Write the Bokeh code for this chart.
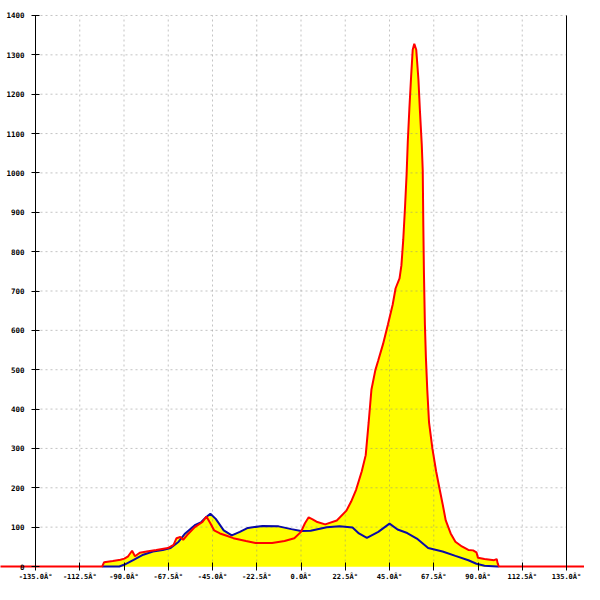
import numpy as np
from bokeh.plotting import figure
from bokeh.models import Range1d, LinearAxis, FixedTicker, CustomJSTickFormatter
from bokeh.embed import file_html
from bokeh.resources import INLINE

# ---- data (angle in degrees, count) ----
red_deg = [-160.0, -101.1, -100.1, -95.7, -91.8, -89.8, -87.9, -85.9, -84.4, -82.0,
           -78.5, -73.6, -67.7, -64.8, -63.3, -61.4, -59.9, -57.9, -54.0, -50.1,
           -48.1, -46.1, -44.2, -41.2, -37.8, -34.4, -28.0, -23.1, -14.7, -8.35,
           -3.4, 0.0, 2.0, 3.9, 5.9, 8.3, 12.3, 18.2, 23.1, 25.5,
           28.0, 30.9, 32.9, 34.4, 35.8, 37.8, 39.3, 41.7, 44.2, 46.6,
           48.1, 50.1, 51.05, 52.0, 52.9, 53.7, 54.3, 55.1, 56.0, 56.8,
           57.6, 58.6, 59.7, 60.5, 61.4, 61.9, 62.2, 62.5, 63.0, 63.5,
           64.2, 65.1, 66.8, 68.7, 70.35, 72.0, 73.6, 76.1, 78.5, 81.8,
           85.1, 87.5, 89.2, 90.0, 93.3, 98.2, 99.5, 100.0, 100.6, 160.0]
red_val = [0, 0, 11, 14, 17, 20, 26, 40, 26, 35,
           38, 42, 47, 55, 72, 75, 68, 80, 100, 113,
           127, 110, 92, 84, 78, 72, 65, 60, 60, 65,
           72, 88, 110, 125, 120, 113, 107, 117, 142, 165,
           195, 242, 283, 366, 449, 499, 524, 565, 615, 665,
           707, 732, 765, 831, 914, 997, 1080, 1163, 1246, 1313,
           1328, 1313, 1238, 1155, 1072, 1006, 864, 748, 615, 532,
           449, 366, 300, 242, 200, 159, 117, 84, 63, 51,
           42, 41, 36, 22, 19, 16, 19, 8, 0, 0]

blue_deg = [-101.1, -92.4, -89.7, -85.1, -80.2, -75.3, -70.3, -66.3, -62.2, -58.9,
            -54.0, -50.7, -48.3, -46.1, -43.35, -39.3, -35.2, -31.1, -27.0, -19.6,
            -11.4, -4.9, 0.0, 4.9, 13.1, 19.6, 26.2, 29.45, 33.5, 39.3,
            45.0, 49.1, 54.0, 58.9, 64.65, 72.0, 78.5, 85.1, 89.2, 93.3,
            99.8, 100.6]
blue_val = [0, 0, 5, 17, 30, 38, 42, 47, 63, 84,
            105, 113, 125, 134, 121, 92, 79, 88, 98, 103,
            102, 95, 90, 91, 100, 102, 99, 84, 73, 88,
            109, 94, 85, 71, 47, 38, 27, 16, 7, 2,
            0, 0]

x_ticks = [-135.0, -112.5, -90.0, -67.5, -45.0, -22.5, 0.0, 22.5, 45.0, 67.5, 90.0, 112.5, 135.0]
x_tick_labels = ["-135.0Â°", "-112.5Â°", "-90.0Â°", "-67.5Â°", "-45.0Â°", "-22.5Â°", "0.0Â°",
                 "22.5Â°", "45.0Â°", "67.5Â°", "90.0Â°", "112.5Â°", "135.0Â°"]
y_ticks = [0, 100, 200, 300, 400, 500, 600, 700, 800, 900, 1000, 1100, 1200, 1300, 1400]
y_tick_labels = ["0", "100", "200", "300", "400", "500", "600", "700", "800", "900",
                 "1000", "1100", "1200", "1300", "1400"]

FONT = "DejaVu Sans Mono"

p = figure(width=584, height=584, output_backend="svg", toolbar_location=None,
           x_range=Range1d(-152.8, 144.15), y_range=Range1d(-45.7, 1438.1),
           x_axis_type=None, y_axis_type=None, min_border=0,
           background_fill_color="white", border_fill_color="white")
p.outline_line_color = None

# yellow fill under both curves
p.varea(x=red_deg, y1=0, y2=red_val, fill_color="#ffff00")
p.varea(x=blue_deg, y1=0, y2=blue_val, fill_color="#ffff00")

# dotted grid (drawn over the fill)
gx = x_ticks
gy = y_ticks[1:]
p.segment(x0=gx, y0=[y_ticks[0]] * len(gx), x1=gx, y1=[y_ticks[-1]] * len(gx),
          line_color="#8a8a8a", line_alpha=0.5, line_width=1, line_dash="2 3")
p.segment(x0=[x_ticks[0]] * len(gy), y0=gy, x1=[x_ticks[-1]] * len(gy), y1=gy,
          line_color="#8a8a8a", line_alpha=0.5, line_width=1, line_dash="2 3")

# series lines
p.line(blue_deg, blue_val, line_color="#0a0aa6", line_width=2)
p.line(red_deg, red_val, line_color="#ff0000", line_width=2)

fmt_code = "const i = tv.indexOf(tick); return i >= 0 ? tl[i] : '';"

yaxis = LinearAxis(fixed_location=x_ticks[0], bounds=(y_ticks[0], y_ticks[-1]),
                   ticker=FixedTicker(ticks=y_ticks, minor_ticks=[]),
                   formatter=CustomJSTickFormatter(args=dict(tv=y_ticks, tl=y_tick_labels), code=fmt_code),
                   major_tick_in=4, major_tick_out=4, minor_tick_in=0, minor_tick_out=0,
                   axis_line_color="black", major_tick_line_color="black",
                   major_label_standoff=7,
                   major_label_text_font=FONT, major_label_text_font_style="bold",
                   major_label_text_font_size="7.5px", major_label_text_color="black")
p.add_layout(yaxis, "left")

xaxis = LinearAxis(fixed_location=y_ticks[0], bounds=(x_ticks[0], x_ticks[-1]),
                   ticker=FixedTicker(ticks=x_ticks, minor_ticks=[]),
                   formatter=CustomJSTickFormatter(args=dict(tv=x_ticks, tl=x_tick_labels), code=fmt_code),
                   major_tick_in=4, major_tick_out=4, minor_tick_in=0, minor_tick_out=0,
                   axis_line_color=None, major_tick_line_color="black",
                   major_label_standoff=2,
                   major_label_text_font=FONT, major_label_text_font_style="bold",
                   major_label_text_font_size="7px", major_label_text_color="black")
p.add_layout(xaxis, "below")

raxis = LinearAxis(fixed_location=x_ticks[-1], bounds=(y_ticks[0], y_ticks[-1]),
                   ticker=FixedTicker(ticks=[], minor_ticks=[]),
                   major_tick_in=0, major_tick_out=0, minor_tick_in=0, minor_tick_out=0,
                   axis_line_color="black", major_label_text_font_size="0px")
p.add_layout(raxis, "right")

open("out.html", "w").write(file_html(p, INLINE))
